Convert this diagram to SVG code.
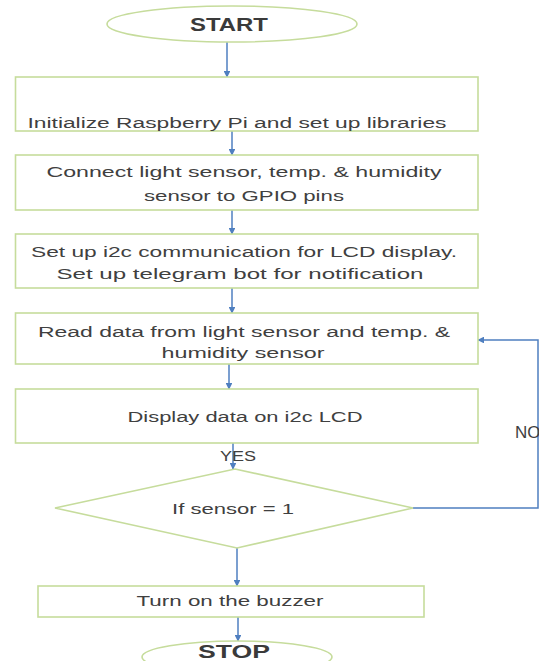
<svg xmlns="http://www.w3.org/2000/svg" width="539" height="661" viewBox="0 0 539 661">
<defs>
<marker id="arr" viewBox="0 0 10 10" refX="9" refY="5" markerWidth="4.5" markerHeight="4.5" markerUnits="strokeWidth" orient="auto">
<path d="M0,0 L10,5 L0,10 z" fill="#4f7fc0"/>
</marker>
<style>
.box{fill:#ffffff;stroke:#c6dc9c;stroke-width:1.6}
.t{font-family:"Liberation Sans",Arial,sans-serif;font-size:15.5px;fill:#404040;text-anchor:middle}
.b{font-family:"Liberation Sans",Arial,sans-serif;font-size:18px;font-weight:bold;fill:#3a3a3a;text-anchor:middle}
.c{fill:none;stroke:#4f7fc0;stroke-width:1.5;marker-end:url(#arr)}
</style>
</defs>
<rect width="539" height="661" fill="#ffffff"/>
<g id="connectors">
<line class="c" x1="227" y1="42" x2="227" y2="77"/>
<line class="c" x1="232" y1="131" x2="232" y2="155"/>
<line class="c" x1="232" y1="210" x2="232" y2="234"/>
<line class="c" x1="232" y1="288" x2="232" y2="313"/>
<line class="c" x1="229" y1="364" x2="229" y2="389"/>
<line class="c" x1="233" y1="443" x2="233" y2="469"/>
<line class="c" x1="237" y1="548" x2="237" y2="586"/>
<line class="c" x1="238" y1="617" x2="238" y2="641"/>
<polyline class="c" points="413,508 538,508 538,340 478,340"/>
</g>
<g id="start">
<ellipse class="box" cx="232" cy="24" rx="125" ry="18"/>
<text class="b" x="229" y="31" textLength="78" lengthAdjust="spacingAndGlyphs">START</text>
</g>
<g id="init">
<rect class="box" x="15.5" y="77" width="462.5" height="54"/>
<text class="t" x="237" y="128" textLength="419" lengthAdjust="spacingAndGlyphs">Initialize Raspberry Pi and set up libraries</text>
</g>
<g id="connect">
<rect class="box" x="15.5" y="155" width="462.5" height="55"/>
<text class="t" x="244" y="177" textLength="395" lengthAdjust="spacingAndGlyphs">Connect light sensor, temp. &amp; humidity</text>
<text class="t" x="244" y="201" textLength="200" lengthAdjust="spacingAndGlyphs">sensor to GPIO pins</text>
</g>
<g id="setup">
<rect class="box" x="15.5" y="234" width="462.5" height="54"/>
<text class="t" x="244" y="257" textLength="426" lengthAdjust="spacingAndGlyphs">Set up i2c communication for LCD display.</text>
<text class="t" x="240" y="279" textLength="367" lengthAdjust="spacingAndGlyphs">Set up telegram bot for notification</text>
</g>
<g id="read">
<rect class="box" x="15.5" y="313" width="462.5" height="51"/>
<text class="t" x="244" y="337" textLength="412" lengthAdjust="spacingAndGlyphs">Read data from light sensor and temp. &amp;</text>
<text class="t" x="243" y="358" textLength="163" lengthAdjust="spacingAndGlyphs">humidity sensor</text>
</g>
<g id="display">
<rect class="box" x="15.5" y="389" width="462.5" height="54"/>
<text class="t" x="245" y="422" textLength="235" lengthAdjust="spacingAndGlyphs">Display data on i2c LCD</text>
</g>
<g id="decision">
<polygon class="box" points="235,469 413,508 237,548 55,508"/>
<text class="t" x="233" y="514" textLength="122" lengthAdjust="spacingAndGlyphs">If sensor = 1</text>
</g>
<g id="labels">
<text class="t" x="238" y="461" textLength="36" lengthAdjust="spacingAndGlyphs" style="font-size:14px">YES</text>
<text class="t" x="515" y="438" style="text-anchor:start;font-size:17px">NO</text>
</g>
<g id="buzzer">
<rect class="box" x="38" y="586" width="386" height="31"/>
<text class="t" x="230" y="606" textLength="187" lengthAdjust="spacingAndGlyphs">Turn on the buzzer</text>
</g>
<g id="stop">
<ellipse class="box" cx="237" cy="657" rx="95" ry="16"/>
<text class="b" x="234" y="658" textLength="72" lengthAdjust="spacingAndGlyphs">STOP</text>
</g>
</svg>
